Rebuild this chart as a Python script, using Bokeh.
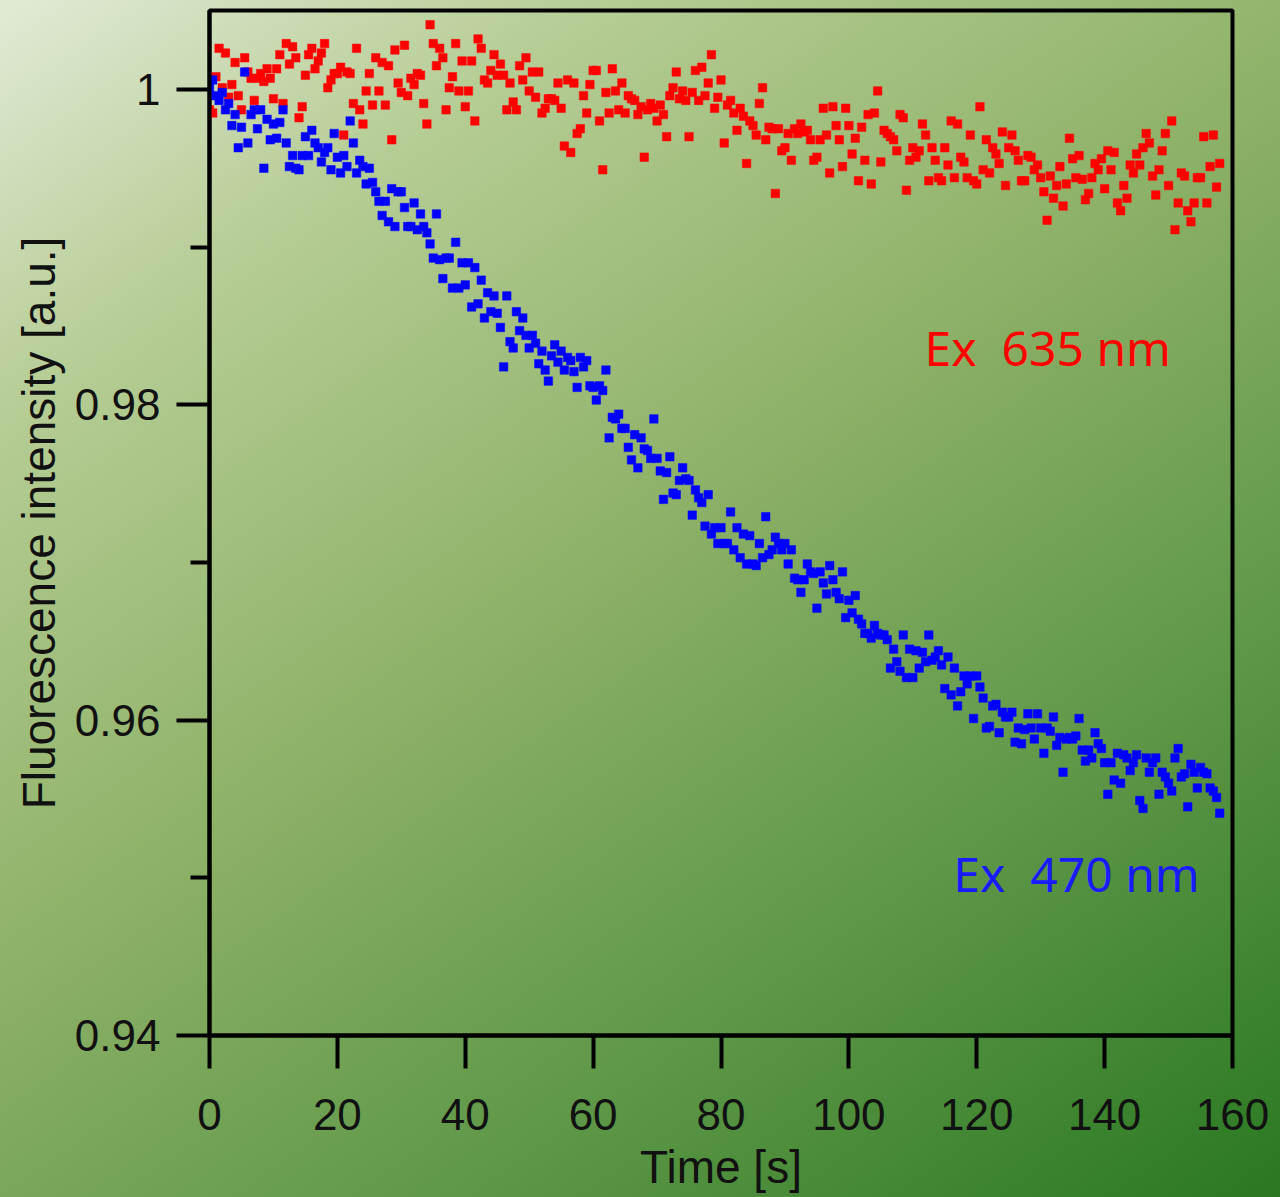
import numpy as np
from bokeh.plotting import figure
from bokeh.models import Range1d, FixedTicker, Label, InlineStyleSheet
from bokeh.embed import file_html
from bokeh.resources import INLINE

# Sampling interval of the recording [s]
SAMPLE_STEP = 0.5

# Normalised fluorescence, excitation at 470 nm (blue)
ex470 = [
    1.0001, 1.0006, 0.9996, 0.9993, 0.9998, 0.9987, 0.9991, 0.9977, 0.9984, 0.9963,
    0.9976, 1.0011, 0.9966, 0.9984, 0.9987, 0.9975, 0.9987, 0.9950, 0.9981, 0.9968,
    0.9978, 0.9969, 0.9979, 0.9987, 0.9966, 0.9951, 0.9958, 0.9950, 0.9949, 0.9958,
    0.9970, 0.9958, 0.9974, 0.9966, 0.9963, 0.9954, 0.9960, 0.9963, 0.9949, 0.9972,
    0.9957, 0.9947, 0.9958, 0.9951, 0.9980, 0.9966, 0.9947, 0.9955, 0.9951, 0.9940,
    0.9950, 0.9941, 0.9935, 0.9929, 0.9920, 0.9929, 0.9916, 0.9937, 0.9913, 0.9935,
    0.9935, 0.9925, 0.9913, 0.9913, 0.9928, 0.9911, 0.9921, 0.9913, 0.9909, 0.9902,
    0.9893, 0.9921, 0.9892, 0.9880, 0.9893, 0.9893, 0.9874, 0.9903, 0.9874, 0.9890,
    0.9876, 0.9890, 0.9862, 0.9887, 0.9864, 0.9879, 0.9855, 0.9871, 0.9859, 0.9869,
    0.9858, 0.9849, 0.9824, 0.9869, 0.9840, 0.9836, 0.9859, 0.9847, 0.9855, 0.9844,
    0.9836, 0.9844, 0.9839, 0.9826, 0.9834, 0.9822, 0.9815, 0.9831, 0.9838, 0.9827,
    0.9834, 0.9822, 0.9830, 0.9828, 0.9821, 0.9811, 0.9830, 0.9824, 0.9828, 0.9812,
    0.9811, 0.9803, 0.9812, 0.9809, 0.9822, 0.9779, 0.9792, 0.9791, 0.9794, 0.9785,
    0.9785, 0.9773, 0.9765, 0.9781, 0.9760, 0.9779, 0.9772, 0.9771, 0.9766, 0.9791,
    0.9766, 0.9758, 0.9740, 0.9757, 0.9767, 0.9744, 0.9743, 0.9752, 0.9760, 0.9753,
    0.9752, 0.9730, 0.9746, 0.9741, 0.9738, 0.9723, 0.9743, 0.9718, 0.9722, 0.9712,
    0.9722, 0.9712, 0.9712, 0.9732, 0.9708, 0.9722, 0.9703, 0.9718, 0.9699, 0.9717,
    0.9699, 0.9698, 0.9712, 0.9703, 0.9729, 0.9705, 0.9708, 0.9716, 0.9712, 0.9708,
    0.9712, 0.9699, 0.9708, 0.9690, 0.9689, 0.9681, 0.9689, 0.9699, 0.9694, 0.9693,
    0.9671, 0.9694, 0.9687, 0.9680, 0.9698, 0.9689, 0.9681, 0.9677, 0.9694, 0.9665,
    0.9676, 0.9668, 0.9679, 0.9664, 0.9661, 0.9655, 0.9655, 0.9652, 0.9660, 0.9655,
    0.9654, 0.9654, 0.9651, 0.9633, 0.9645, 0.9637, 0.9631, 0.9654, 0.9627, 0.9645,
    0.9627, 0.9644, 0.9633, 0.9643, 0.9637, 0.9654, 0.9638, 0.9640, 0.9644, 0.9635,
    0.9620, 0.9640, 0.9616, 0.9633, 0.9609, 0.9618, 0.9628, 0.9623, 0.9628, 0.9601,
    0.9628, 0.9621, 0.9614, 0.9595, 0.9596, 0.9609, 0.9610, 0.9592, 0.9605, 0.9602,
    0.9602, 0.9605, 0.9586, 0.9595, 0.9585, 0.9594, 0.9604, 0.9595, 0.9588, 0.9604,
    0.9595, 0.9579, 0.9595, 0.9593, 0.9602, 0.9584, 0.9589, 0.9567, 0.9588, 0.9589,
    0.9588, 0.9590, 0.9601, 0.9581, 0.9574, 0.9581, 0.9576, 0.9592, 0.9585, 0.9582,
    0.9573, 0.9553, 0.9573, 0.9562, 0.9579, 0.9560, 0.9578, 0.9576, 0.9568, 0.9573,
    0.9578, 0.9549, 0.9544, 0.9576, 0.9567, 0.9573, 0.9576, 0.9553, 0.9567, 0.9564,
    0.9560, 0.9555, 0.9576, 0.9582, 0.9564, 0.9566, 0.9545, 0.9572, 0.9567, 0.9557,
    0.9570, 0.9567, 0.9566, 0.9557, 0.9555, 0.9551, 0.9541,
]

# Normalised fluorescence, excitation at 635 nm (red)
ex635 = [
    0.9987, 0.9985, 1.0008, 1.0026, 1.0001, 1.0023, 0.9995, 1.0003, 1.0017, 0.9996,
    0.9987, 1.0020, 1.0011, 1.0007, 0.9993, 1.0007, 1.0010, 1.0005, 1.0013, 1.0007,
    0.9994, 1.0013, 1.0022, 0.9991, 1.0029, 1.0016, 1.0027, 1.0020, 0.9982, 0.9989,
    1.0009, 1.0022, 1.0026, 1.0013, 1.0018, 1.0023, 1.0029, 1.0001, 1.0006, 1.0010,
    1.0010, 1.0014, 0.9971, 1.0011, 1.0010, 0.9991, 1.0026, 0.9987, 0.9978, 0.9999,
    1.0010, 0.9990, 1.0020, 0.9999, 1.0017, 0.9990, 1.0015, 0.9968, 1.0025, 1.0004,
    0.9998, 1.0028, 0.9996, 1.0007, 1.0003, 1.0010, 1.0009, 0.9991, 0.9978, 1.0041,
    1.0029, 1.0015, 1.0026, 1.0020, 0.9987, 1.0001, 1.0008, 1.0029, 0.9999, 1.0018,
    0.9989, 0.9999, 1.0018, 0.9980, 1.0032, 1.0026, 1.0006, 1.0004, 1.0012, 1.0022,
    1.0009, 1.0016, 1.0009, 0.9987, 1.0004, 0.9992, 0.9987, 1.0015, 1.0006, 1.0020,
    0.9999, 1.0011, 0.9995, 1.0011, 0.9985, 0.9988, 0.9994, 0.9994, 0.9993, 1.0004,
    0.9988, 0.9964, 1.0006, 0.9960, 1.0004, 0.9972, 0.9975, 0.9996, 0.9985, 1.0003,
    1.0012, 1.0012, 0.9980, 0.9949, 0.9998, 0.9985, 1.0013, 0.9999, 0.9987, 1.0004,
    0.9985, 0.9996, 0.9994, 0.9993, 0.9984, 0.9989, 0.9957, 0.9987, 0.9991, 0.9988,
    0.9980, 0.9990, 0.9984, 0.9970, 0.9996, 1.0001, 1.0011, 0.9994, 0.9999, 0.9993,
    0.9970, 0.9998, 1.0012, 0.9993, 1.0014, 0.9996, 1.0004, 1.0022, 0.9988, 0.9995,
    1.0006, 0.9966, 0.9990, 0.9993, 0.9985, 0.9974, 0.9988, 0.9983, 0.9953, 0.9980,
    0.9977, 0.9971, 0.9991, 1.0001, 0.9968, 0.9976, 0.9975, 0.9934, 0.9975, 0.9961,
    0.9963, 0.9972, 0.9955, 0.9975, 0.9972, 0.9978, 0.9973, 0.9974, 0.9968, 0.9955,
    0.9957, 0.9968, 0.9988, 0.9971, 0.9947, 0.9989, 0.9977, 0.9968, 0.9951, 0.9988,
    0.9977, 0.9959, 0.9969, 0.9942, 0.9976, 0.9955, 0.9984, 0.9940, 0.9985, 0.9999,
    0.9954, 0.9974, 0.9972, 0.9970, 0.9968, 0.9961, 0.9984, 0.9982, 0.9936, 0.9955,
    0.9963, 0.9957, 0.9961, 0.9978, 0.9971, 0.9942, 0.9963, 0.9955, 0.9944, 0.9942,
    0.9963, 0.9952, 0.9980, 0.9944, 0.9978, 0.9957, 0.9954, 0.9944, 0.9971, 0.9942,
    0.9940, 0.9989, 0.9949, 0.9968, 0.9947, 0.9963, 0.9959, 0.9953, 0.9973, 0.9939,
    0.9963, 0.9971, 0.9961, 0.9955, 0.9942, 0.9942, 0.9958, 0.9957, 0.9949, 0.9952,
    0.9944, 0.9935, 0.9917, 0.9945, 0.9931, 0.9939, 0.9951, 0.9926, 0.9940, 0.9969,
    0.9956, 0.9944, 0.9958, 0.9943, 0.9930, 0.9934, 0.9944, 0.9953, 0.9949, 0.9956,
    0.9937, 0.9961, 0.9949, 0.9960, 0.9928, 0.9923, 0.9939, 0.9931, 0.9952, 0.9947,
    0.9959, 0.9952, 0.9963, 0.9972, 0.9966, 0.9945, 0.9933, 0.9949, 0.9961, 0.9972,
    0.9939, 0.9980, 0.9911, 0.9928, 0.9947, 0.9945, 0.9923, 0.9916, 0.9928, 0.9944,
    0.9944, 0.9970, 0.9928, 0.9951, 0.9971, 0.9938, 0.9953,
]

time_s = np.arange(len(ex470)) * SAMPLE_STEP

x_ticks = [0, 20, 40, 60, 80, 100, 120, 140, 160]
y_ticks = [0.94, 0.96, 0.98, 1.0]
y_minor = [0.95, 0.97, 0.99]
y_tick_labels = {0.94: "0.94", 0.96: "0.96", 0.98: "0.98", 1.0: "1"}

TICK_FONT = "Liberation Sans"

background = InlineStyleSheet(css="""
:host {
  background: linear-gradient(145deg, #e2ead6 0%, #b6cd95 20%, #90b36a 45%, #5f9848 72%, #2a7822 100%);
}
""")

p = figure(
    width=1280, height=1197,
    x_range=Range1d(0, 160), y_range=Range1d(0.94, 1.005),
    output_backend="svg", toolbar_location=None,
    min_border_left=209, min_border_right=48,
    min_border_top=10, min_border_bottom=162,
    stylesheets=[background],
)
p.background_fill_color = None
p.border_fill_color = None
p.outline_line_color = "black"
p.outline_line_width = 4
p.grid.visible = False

# x axis
xa = p.xaxis[0]
xa.ticker = FixedTicker(ticks=x_ticks)
xa.axis_label = "Time [s]"
# y axis
ya = p.yaxis[0]
ya.ticker = FixedTicker(ticks=y_ticks, minor_ticks=y_minor)
ya.major_label_overrides = y_tick_labels
ya.axis_label = "Fluorescence intensity [a.u.]"

for ax in (xa, ya):
    ax.axis_line_color = "black"
    ax.axis_line_width = 4
    ax.major_tick_line_color = "black"
    ax.major_tick_line_width = 4
    ax.major_tick_in = 0
    ax.major_tick_out = 33
    ax.minor_tick_line_color = "black"
    ax.minor_tick_line_width = 4
    ax.minor_tick_in = 0
    ax.major_label_text_font = TICK_FONT
    ax.major_label_text_font_size = "44px"
    ax.major_label_text_color = "#111111"
    ax.axis_label_text_font = TICK_FONT
    ax.axis_label_text_font_size = "46px"
    ax.axis_label_text_font_style = "normal"
    ax.axis_label_text_color = "#111111"

xa.minor_tick_out = 0
ya.minor_tick_out = 19
xa.major_label_standoff = 30
ya.major_label_standoff = 16
xa.axis_label_standoff = 8
ya.axis_label_standoff = 7

p.scatter(time_s, ex635, marker="square", size=8.5, fill_color="#ff0000", line_color="#ff0000", line_width=0.5)
p.scatter(time_s, ex470, marker="square", size=8.5, fill_color="#0000ff", line_color="#0000ff", line_width=0.5)

p.add_layout(Label(x=131.1, y=0.9836, text="Ex\u00a0 635 nm", text_align="center", text_baseline="middle",
                   text_font="Noto Sans", text_font_size="48px", text_color="#ff0000"))
p.add_layout(Label(x=135.6, y=0.9503, text="Ex\u00a0 470 nm", text_align="center", text_baseline="middle",
                   text_font="Noto Sans", text_font_size="48px", text_color="#1a1aff"))

open("out.html", "w").write(file_html(p, INLINE))
